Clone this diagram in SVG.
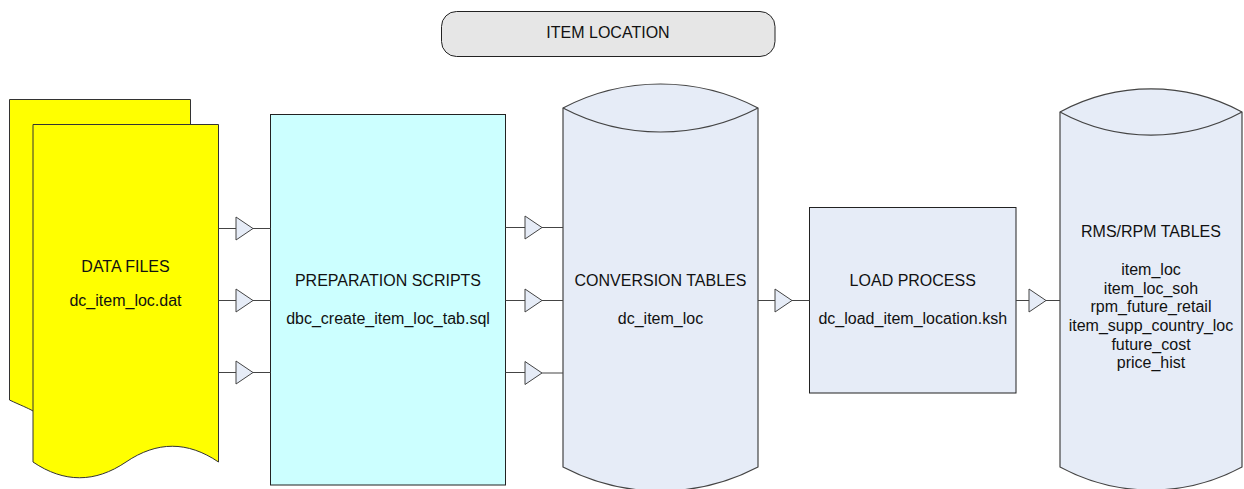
<svg xmlns="http://www.w3.org/2000/svg" width="1244" height="489" viewBox="0 0 1244 489">
<style>
text{font-family:"Liberation Sans",Arial,sans-serif;font-size:16px;fill:#111;text-anchor:middle}
.doc{fill:#ffff00;stroke:#333;stroke-width:1}
.box{stroke:#222;stroke-width:1}
.cyl{fill:#e6ecf7;stroke:#444;stroke-width:1.2}
.ln{stroke:#444;stroke-width:1.2;fill:none}
.tri{fill:#e6ecf7;stroke:#444;stroke-width:1}
</style>
<defs>
<polygon id="tri" class="tri" points="0,-11.5 17,0 0,11.5"/>
</defs>
<g id="title">
<rect x="441.5" y="11.5" width="333.5" height="45" rx="15" fill="#e6e6e6" stroke="#222" stroke-width="1"/>
<text x="608" y="38">ITEM LOCATION</text>
</g>
<g id="data-files">
<path class="doc" d="M9.5,99.5 L190.5,99.5 L190.5,380 L33,411 C28,408 20,405 9.5,400 Z"/>
<path class="doc" d="M33,124.5 L218.5,124.5 L218.5,462 C187.5,441 157,441 126,462 C95,483 64,483 33,462 Z"/>
<text x="125.5" y="272">DATA FILES</text>
<text x="125.5" y="306">dc_item_loc.dat</text>
</g>
<g id="preparation-scripts">
<rect class="box" x="270.5" y="114.5" width="235" height="370.5" fill="#ccffff"/>
<text x="388" y="286">PREPARATION SCRIPTS</text>
<text x="388" y="324">dbc_create_item_loc_tab.sql</text>
</g>
<g id="conversion-tables">
<path class="cyl" d="M563,108 A210,210 0 0 1 758,108 L758,467 A210,210 0 0 1 563,467 Z"/>
<path class="ln" d="M563,108 A210,210 0 0 0 758,108"/>
<text x="660.5" y="286">CONVERSION TABLES</text>
<text x="660.5" y="324">dc_item_loc</text>
</g>
<g id="load-process">
<rect class="box" x="809.5" y="207.5" width="206.5" height="185.5" fill="#e6ecf7"/>
<text x="912.75" y="286">LOAD PROCESS</text>
<text x="912.75" y="324">dc_load_item_location.ksh</text>
</g>
<g id="rms-rpm-tables">
<path class="cyl" d="M1060,112 A191,191 0 0 1 1242,112 L1242,467 A191,191 0 0 1 1060,467 Z"/>
<path class="ln" d="M1060,112 A191,191 0 0 0 1242,112"/>
<text x="1151" y="237">RMS/RPM TABLES</text>
<text x="1151" y="275">item_loc</text>
<text x="1151" y="293.7">item_loc_soh</text>
<text x="1151" y="312.4">rpm_future_retail</text>
<text x="1151" y="331">item_supp_country_loc</text>
<text x="1151" y="349.7">future_cost</text>
<text x="1151" y="368.4">price_hist</text>
</g>
<g id="connectors">
<path class="ln" d="M218.5,228.5 H236 M253,228.5 H270.5"/>
<use href="#tri" x="236" y="228.5"/>
<path class="ln" d="M218.5,300.5 H236 M253,300.5 H270.5"/>
<use href="#tri" x="236" y="300.5"/>
<path class="ln" d="M218.5,372.5 H236 M253,372.5 H270.5"/>
<use href="#tri" x="236" y="372.5"/>
<path class="ln" d="M505.5,227.5 H525 M542,227.5 H563"/>
<use href="#tri" x="525" y="227.5"/>
<path class="ln" d="M505.5,300.5 H525 M542,300.5 H563"/>
<use href="#tri" x="525" y="300.5"/>
<path class="ln" d="M505.5,372.5 H525 M542,373 H563"/>
<use href="#tri" x="525" y="373"/>
<path class="ln" d="M758,300.5 H775 M792,300.5 H809.5"/>
<use href="#tri" x="775" y="300.5"/>
<path class="ln" d="M1016,300.5 H1029 M1046,300.5 H1060"/>
<use href="#tri" x="1029" y="300.5"/>
</g>
</svg>
